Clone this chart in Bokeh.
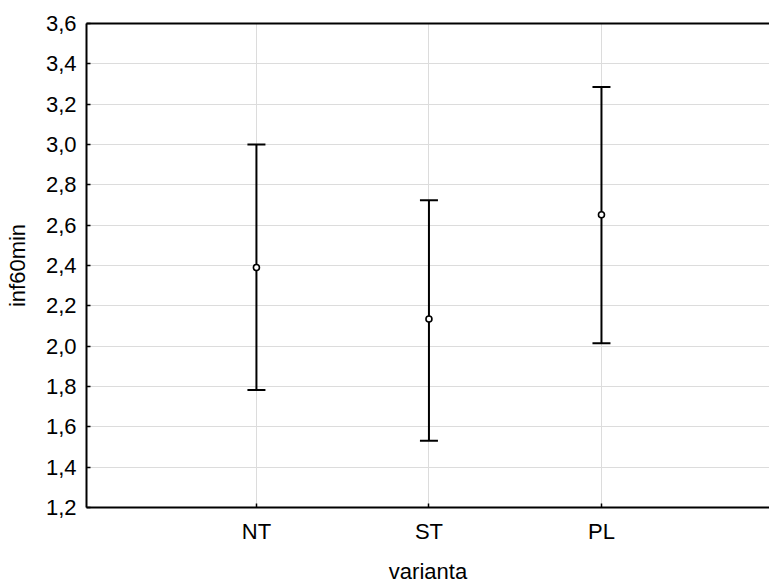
from bokeh.plotting import figure
from bokeh.models import (ColumnDataSource, FixedTicker, CustomJSTickFormatter,
                          LinearAxis, Whisker, TeeHead, Range1d)
from bokeh.embed import file_html
from bokeh.resources import INLINE

# Group means with interval bounds for inf60min by varianta
categories = ["NT", "ST", "PL"]
means = [2.39, 2.135, 2.652]
upper = [3.00, 2.723, 3.285]
lower = [1.783, 1.531, 2.014]
y_ticks = [1.2, 1.4, 1.6, 1.8, 2.0, 2.2, 2.4, 2.6, 2.8, 3.0, 3.2, 3.4, 3.6]

xs = list(range(1, len(categories) + 1))
src = ColumnDataSource(dict(x=xs, mean=means, upper=upper, lower=lower))

FONT = "Liberation Sans"
FS = "22px"

p = figure(width=769, height=586, output_backend="svg", toolbar_location=None,
           x_range=Range1d(0.015, 3.974), y_range=Range1d(1.2, 3.6),
           min_border_left=86, min_border_right=0, min_border_top=23,
           min_border_bottom=79, outline_line_color=None,
           background_fill_color="white", border_fill_color="white")

# axes
p.xaxis.ticker = FixedTicker(ticks=xs)
p.xaxis.major_label_overrides = {x: c for x, c in zip(xs, categories)}
p.yaxis.ticker = FixedTicker(ticks=y_ticks)
p.yaxis.formatter = CustomJSTickFormatter(code="return tick.toFixed(1).replace('.', ',');")
p.xaxis.axis_label = "varianta"
p.yaxis.axis_label = "inf60min"
for ax in (p.xaxis[0], p.yaxis[0]):
    ax.axis_line_color = "black"
    ax.axis_line_width = 2
    ax.major_tick_in = 4
    ax.major_tick_out = 0
    ax.major_tick_line_color = "black"
    ax.major_tick_line_width = 1.5
    ax.minor_tick_line_color = None
    ax.major_label_text_font = FONT
    ax.major_label_text_font_size = FS
    ax.major_label_text_color = "black"
    ax.axis_label_text_font = FONT
    ax.axis_label_text_font_size = FS
    ax.axis_label_text_font_style = "normal"
    ax.axis_label_text_color = "black"
p.yaxis.major_label_standoff = 10
p.xaxis.major_label_standoff = 11
p.yaxis.axis_label_standoff = 13
p.xaxis.axis_label_standoff = 12

# top frame line
top = LinearAxis(major_tick_line_color=None, minor_tick_line_color=None,
                 major_label_text_font_size="0px", axis_line_color="black",
                 axis_line_width=2, ticker=FixedTicker(ticks=[]))
p.add_layout(top, "above")

# grid
p.xgrid.ticker = FixedTicker(ticks=xs)
p.ygrid.ticker = FixedTicker(ticks=y_ticks)
p.grid.grid_line_color = "#dcdcdc"
p.grid.grid_line_width = 1

# interval bars
w = Whisker(source=src, base="x", upper="upper", lower="lower",
            line_color="black", line_width=2,
            upper_head=TeeHead(size=18, line_color="black", line_width=2),
            lower_head=TeeHead(size=18, line_color="black", line_width=2))
p.add_layout(w)

# means
p.scatter("x", "mean", source=src, size=6, marker="circle",
          fill_color="white", line_color="black", line_width=1.6)

open("out.html", "w").write(file_html(p, INLINE))
